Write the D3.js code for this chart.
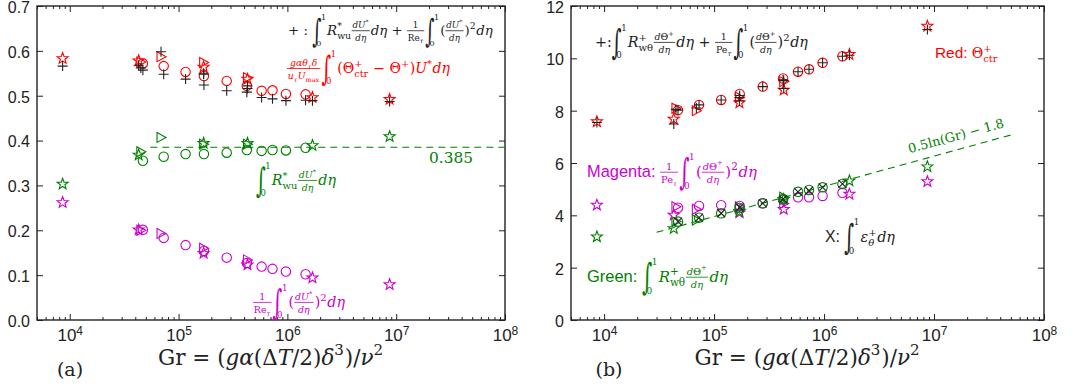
<!DOCTYPE html>
<html>
<head>
<meta charset="utf-8">
<script src="https://cdn.jsdelivr.net/npm/d3@7"></script>
<style>body{margin:0;background:#fff}</style>
</head>
<body>
<svg id="chart" width="1073" height="387"></svg>
<script>
// Gr values of the three marker families
const grCircle = [4.7e4, 7.3e4, 1.16e5, 1.71e5, 2.77e5, 4.24e5, 5.8e5, 7.3e5, 9.7e5, 1.47e6];
const grTri = [4.5e4, 6.9e4, 1.7e5, 4.3e5];
const grStar = [8.6e3, 4.3e4, 1.7e5, 4.3e5, 1.7e6, 8.7e6];

// panel (a)
const aRedCircle = [0.572, 0.566, 0.553, 0.544, 0.533, 0.522, 0.511, 0.512, 0.504, 0.503];
const aRedTri = [0.575, 0.587, 0.574, 0.540];
const aRedStar = [0.583, 0.578, 0.564, 0.537, 0.496, 0.492];
const aPlusCircle = [0.557, 0.548, 0.537, 0.524, 0.511, 0.508, 0.496, 0.493, 0.489, 0.490];
const aPlusTri = [0.562, 0.598, 0.550, 0.522];
const aPlusStar = [0.566, 0.568, 0.548, 0.516, 0.489, 0.487];
const aGreenCircle = [0.355, 0.364, 0.370, 0.370, 0.373, 0.379, 0.377, 0.379, 0.378, 0.384];
const aGreenTri = [0.375, 0.407, 0.392, 0.392];
const aGreenStar = [0.303, 0.368, 0.394, 0.394, 0.389, 0.409];
const aMagCircle = [0.201, 0.183, 0.167, 0.154, 0.139, 0.127, 0.119, 0.114, 0.108, 0.102];
const aMagTri = [0.200, 0.193, 0.160, 0.134];
const aMagStar = [0.262, 0.201, 0.149, 0.123, 0.094, 0.079];
const aRefGr = [5.5e4, 1e8];
const aRefVal = [0.385, 0.385];

// panel (b)
const bRedCircle = [8.02, 8.22, 8.41, 8.64, 8.92, 9.23, 9.49, 9.58, 9.83, 10.08];
const bRedTri = [8.09, 8.00, 8.51, 9.11];
const bRedStar = [7.58, 7.68, 8.30, 8.79, 10.15, 11.23];
const bPlusCircle = [8.02, 8.22, 8.41, 8.58, 8.92, 9.18, 9.49, 9.58, 9.83, 10.08];
const bPlusTri = [8.05, 8.10, 8.50, 9.15];
const bPlusStar = [7.55, 7.49, 8.38, 8.85, 10.12, 11.10];
const bGreenCircle = [3.76, 3.91, 4.08, 4.28, 4.46, 4.62, 4.90, 4.97, 5.07, 5.20];
const bGreenTri = [3.76, 3.82, 4.25, 4.69];
const bGreenStar = [3.18, 3.50, 4.15, 4.61, 5.32, 5.86];
const bMagCircle = [4.29, 4.36, 4.39, 4.36, 4.46, 4.60, 4.69, 4.69, 4.74, 4.86];
const bMagTri = [4.33, 4.23, 4.33, 4.45];
const bMagStar = [4.39, 4.01, 4.10, 4.23, 4.81, 5.29];
const bCross = [3.76, 3.91, 4.08, 4.30, 4.46, 4.62, 4.90, 4.94, 5.07, 5.20];
const bFitGr = [3e4, 5e7];
const bFitVal = [3.35, 7.07];

const aYTicks = [0, 0.1, 0.2, 0.3, 0.4, 0.5, 0.6, 0.7];
const bYTicks = [0, 2, 4, 6, 8, 10, 12];
const xMajor = [1e4, 1e5, 1e6, 1e7, 1e8];

const RED = "#ff0000", GREEN = "#008000", MAG = "#cc00cc", INK = "#222";
const SANS = "Liberation Sans, Arial, sans-serif", SERIF = "DejaVu Serif, serif";

const svg = d3.select("#chart");

// marker shapes
const starPath = (() => {
  let p = [];
  for (let k = 0; k < 10; k++) {
    const r = k % 2 ? 2.4 : 5.8, a = -Math.PI / 2 + k * Math.PI / 5;
    p.push([r * Math.cos(a), r * Math.sin(a)]);
  }
  return "M" + p.join("L") + "Z";
})();
const shapes = {
  circle: "M4.7,0A4.7,4.7 0 1,1 -4.7,0A4.7,4.7 0 1,1 4.7,0Z",
  tri: "M-4,-5L5,0L-4,5Z",
  star: starPath,
  plus: "M-5,0H5M0,-5V5",
  cross: "M-4,-4L4,4M-4,4L4,-4"
};

function series(g, x, y, grs, vals, shape, color) {
  g.append("g").selectAll("path").data(d3.zip(grs, vals)).join("path")
    .attr("d", shapes[shape])
    .attr("transform", d => `translate(${x(d[0])},${y(d[1])})`)
    .attr("fill", "none").attr("stroke", color).attr("stroke-width", 1.1);
}

// tiny math typesetter
function word(g, x, y, s, size, style, family) {
  const t = g.append("text").attr("x", x).attr("y", y)
    .attr("font-size", size).attr("font-style", style).attr("font-family", family)
    .style("white-space", "pre").text(s);
  return t.node().getComputedTextLength();
}
const I = s => ({ i: s });
const sc = (sup, sub) => ({ scr: true, sup, sub });
const fr = (n, d) => ({ frac: [n, d] });
const INT = { int: true };

function lay(g, x, y, items, size, color) {
  let cx = x;
  for (const it of items) {
    if (typeof it === "string") cx += word(g, cx, y, it, size, "normal", SERIF);
    else if (it.i != null) cx += word(g, cx, y, it.i, size, "italic", SERIF);
    else if (it.sf != null) cx += word(g, cx, y, it.sf, size * 1.1, "normal", SANS);
    else if (it.scr) {
      let w = 0;
      if (it.sup) w = Math.max(w, lay(g, cx, y - size * 0.45, it.sup, size * 0.7, color));
      if (it.sub) w = Math.max(w, lay(g, cx, y + size * 0.3, it.sub, size * 0.7, color));
      cx += w + size * 0.04;
    } else if (it.frac) {
      const s = size * 0.66;
      const gn = g.append("g"), gd = g.append("g");
      const wn = lay(gn, 0, 0, it.frac[0], s, color), wd = lay(gd, 0, 0, it.frac[1], s, color);
      const w = Math.max(wn, wd) + size * 0.12;
      gn.attr("transform", `translate(${cx + (w - wn) / 2},${y - size * 0.5})`);
      gd.attr("transform", `translate(${cx + (w - wd) / 2},${y + size * 0.42})`);
      g.append("line").attr("x1", cx).attr("x2", cx + w)
        .attr("y1", y - size * 0.32).attr("y2", y - size * 0.32)
        .attr("stroke", color).attr("stroke-width", 0.8);
      cx += w + size * 0.08;
    } else if (it.int) {
      const t = g.append("text").attr("font-size", size * 2.4).attr("font-family", SERIF)
        .attr("transform", `translate(${cx},${y + size * 0.5}) scale(0.55,1)`).text("∫");
      const w = t.node().getComputedTextLength() * 0.55;
      const w1 = word(g, cx + w * 0.95, y - size * 1.15, "1", size * 0.6, "normal", SERIF);
      word(g, cx + w * 0.45, y + size * 0.8, "0", size * 0.6, "normal", SERIF);
      cx += w * 0.95 + w1 + size * 0.08;
    }
  }
  return cx - x;
}
// lay a formula out so that it spans the given width
function math(x, y, items, width, color) {
  const tmp = svg.append("g");
  const w0 = lay(tmp, 0, 0, items, 20, color);
  tmp.remove();
  const g = svg.append("g").attr("fill", color);
  lay(g, x, y, items, 20 * width / w0, color);
  return g;
}

function panel(x0, x1, yMax, yTicks, yFmt) {
  const top = 6, bottom = 320;
  const x = d3.scaleLog().domain([5e3, 1e8]).range([x0, x1]);
  const y = d3.scaleLinear().domain([0, yMax]).range([bottom, top]);
  const minor = [];
  for (let d = 1e3; d < 1e8; d *= 10)
    for (let k = 2; k <= 9; k++) if (k * d >= 5e3 && k * d <= 1e8) minor.push(k * d);
  const g = svg.append("g");

  const bx = g.append("g").attr("transform", `translate(0,${bottom})`)
    .call(d3.axisBottom(x).tickValues(xMajor).tickSizeInner(-6).tickSizeOuter(0).tickPadding(9));
  bx.selectAll(".tick text").attr("font-family", SANS).attr("font-size", 17).attr("fill", INK)
    .each(function (d) {
      const t = d3.select(this).text("10");
      t.append("tspan").attr("dy", "-0.5em").attr("font-size", 12).text(Math.round(Math.log10(d)));
    });
  g.append("g").attr("transform", `translate(0,${bottom})`)
    .call(d3.axisBottom(x).tickValues(minor).tickSizeInner(-3).tickSizeOuter(0).tickFormat(""));
  g.append("g").attr("transform", `translate(0,${top})`)
    .call(d3.axisTop(x).tickValues(xMajor).tickSizeInner(-6).tickSizeOuter(0).tickFormat(""));
  g.append("g").attr("transform", `translate(0,${top})`)
    .call(d3.axisTop(x).tickValues(minor).tickSizeInner(-3).tickSizeOuter(0).tickFormat(""));
  const ly = g.append("g").attr("transform", `translate(${x0},0)`)
    .call(d3.axisLeft(y).tickValues(yTicks).tickSizeInner(-6).tickSizeOuter(0).tickPadding(7).tickFormat(yFmt));
  ly.selectAll(".tick text").attr("font-family", SANS).attr("font-size", 16).attr("fill", INK).attr("dy", "0.4em");
  g.append("g").attr("transform", `translate(${x1},0)`)
    .call(d3.axisRight(y).tickValues(yTicks).tickSizeInner(-6).tickSizeOuter(0).tickFormat(""));
  g.selectAll(".domain").remove();
  g.selectAll(".tick line").attr("stroke", INK).attr("stroke-width", 1);
  g.append("rect").attr("x", x0).attr("y", top).attr("width", x1 - x0).attr("height", bottom - top)
    .attr("fill", "none").attr("stroke", INK).attr("stroke-width", 1.4);

  // x title
  const cx = (x0 + x1) / 2;
  math(cx - 113, 365, ["Gr = (", I("gα"), "(Δ", I("T"), "/2)", I("δ"), sc(["3"]), ")/", I("ν"), sc(["2"])], 226, INK);
  return { x, y, g };
}

// ---------- panel (a)
{
  const { x, y, g } = panel(37, 505, 0.7, aYTicks, d3.format(".1f"));
  g.append("path").datum(d3.zip(aRefGr, aRefVal))
    .attr("d", d3.line().x(d => x(d[0])).y(d => y(d[1])))
    .attr("fill", "none").attr("stroke", GREEN).attr("stroke-width", 1.1).attr("stroke-dasharray", "7,5");
  series(g, x, y, grCircle, aRedCircle, "circle", RED);
  series(g, x, y, grTri, aRedTri, "tri", RED);
  series(g, x, y, grStar, aRedStar, "star", RED);
  series(g, x, y, grCircle, aGreenCircle, "circle", GREEN);
  series(g, x, y, grTri, aGreenTri, "tri", GREEN);
  series(g, x, y, grStar, aGreenStar, "star", GREEN);
  series(g, x, y, grCircle, aMagCircle, "circle", MAG);
  series(g, x, y, grTri, aMagTri, "tri", MAG);
  series(g, x, y, grStar, aMagStar, "star", MAG);
  series(g, x, y, grCircle, aPlusCircle, "plus", INK);
  series(g, x, y, grTri, aPlusTri, "plus", INK);
  series(g, x, y, grStar, aPlusStar, "plus", INK);

  const dU = fr([I("dU"), sc(["*"])], [I("dη")]);
  math(288, 35, ["+ : ", INT, I("R"), sc(["*"], ["wu"]), dU, I("dη"), " + ",
    fr(["1"], ["Re", sc(null, [I("τ")])]), INT, "(", dU, ")", sc(["2"]), I("dη")], 205, INK);
  math(287, 73, [fr([I("gαθ"), sc(null, [I("τ")]), I("δ")], [I("u"), sc(null, [I("τ")]), I("U"), sc(null, ["max"])]),
    INT, "(Θ", sc(["+"], ["ctr"]), " − Θ", sc(["+"]), ")", I("U"), sc(["*"]), I("dη")], 163, RED);
  math(256, 185, [INT, I("R"), sc(["*"], ["wu"]), dU, I("dη")], 80, GREEN);
  math(253, 307, [fr(["1"], ["Re", sc(null, [I("τ")])]), INT, "(", dU, ")", sc(["2"]), I("dη")], 92, MAG);
  math(429, 163, ["0.385"], 44, GREEN);
  svg.append("text").attr("x", 70).attr("y", 376).attr("text-anchor", "middle").attr("font-family", SERIF)
    .attr("font-size", 19).attr("fill", INK).text("(a)");
}

// ---------- panel (b)
{
  const { x, y, g } = panel(571, 1044, 12, bYTicks, d3.format("d"));
  g.append("path").datum(d3.zip(bFitGr, bFitVal))
    .attr("d", d3.line().x(d => x(d[0])).y(d => y(d[1])))
    .attr("fill", "none").attr("stroke", GREEN).attr("stroke-width", 1.1).attr("stroke-dasharray", "7,5");
  series(g, x, y, grCircle, bRedCircle, "circle", RED);
  series(g, x, y, grTri, bRedTri, "tri", RED);
  series(g, x, y, grStar, bRedStar, "star", RED);
  series(g, x, y, grCircle, bMagCircle, "circle", MAG);
  series(g, x, y, grTri, bMagTri, "tri", MAG);
  series(g, x, y, grStar, bMagStar, "star", MAG);
  series(g, x, y, grCircle, bGreenCircle, "circle", GREEN);
  series(g, x, y, grTri, bGreenTri, "tri", GREEN);
  series(g, x, y, grStar, bGreenStar, "star", GREEN);
  series(g, x, y, grCircle, bPlusCircle, "plus", INK);
  series(g, x, y, grTri, bPlusTri, "plus", INK);
  series(g, x, y, grStar, bPlusStar, "plus", INK);
  series(g, x, y, grCircle, bCross, "cross", INK);

  // rotated fit label, sitting along the dashed line
  const p0 = [x(bFitGr[0]), y(bFitVal[0])], p1 = [x(bFitGr[1]), y(bFitVal[1])];
  const ang = Math.atan2(p1[1] - p0[1], p1[0] - p0[0]) * 180 / Math.PI;
  const lg = math(0, 0, ["0.5ln(Gr) − 1.8"], 99, GREEN);
  lg.attr("transform", `translate(958,143) rotate(${ang}) translate(-49.5,-3)`);

  const dT = fr([I("d"), "Θ", sc(["+"])], [I("dη")]);
  math(595, 47, ["+:", INT, I("R"), sc(["+"], ["wθ"]), dT, I("dη"), " + ",
    fr(["1"], ["Pe", sc(null, [I("τ")])]), INT, "(", dT, ")", sc(["2"]), I("dη")], 213, INK);
  math(935, 58, [{ sf: "Red: " }, "Θ", sc(["+"], ["ctr"])], 63, RED);
  math(587, 177, [{ sf: "Magenta: " }, fr(["1"], ["Pe", sc(null, [I("τ")])]), INT, "(", dT, ")", sc(["2"]), I("dη")], 170, MAG);
  math(825, 242, [{ sf: "X: " }, INT, I("ε"), sc(["+"], [I("θ")]), I("dη")], 70, INK);
  math(587, 282, [{ sf: "Green: " }, INT, I("R"), sc(["+"], ["wθ"]), dT, I("dη")], 141, GREEN);
  svg.append("text").attr("x", 609).attr("y", 376).attr("text-anchor", "middle").attr("font-family", SERIF)
    .attr("font-size", 19).attr("fill", INK).text("(b)");
}
</script>
</body>
</html>
